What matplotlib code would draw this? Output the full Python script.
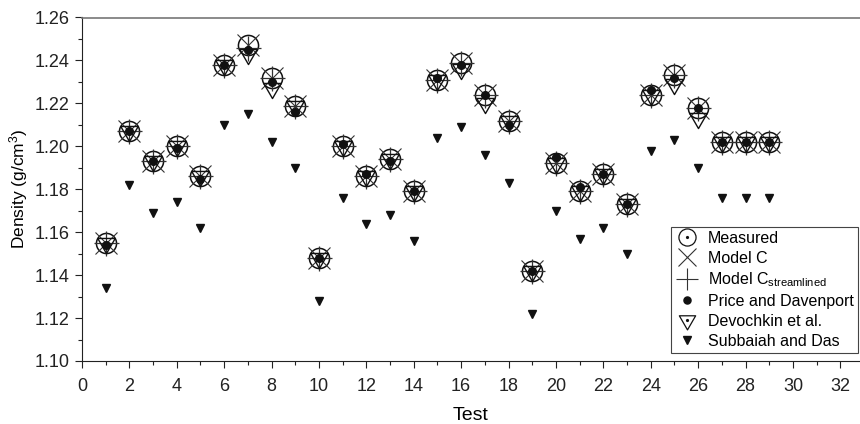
import matplotlib
matplotlib.use("Agg")
import numpy as np
import matplotlib.pyplot as plt
from matplotlib.ticker import MultipleLocator, FormatStrFormatter
from matplotlib.legend_handler import HandlerTuple
from matplotlib.lines import Line2D
from matplotlib.path import Path

plt.rcParams['font.family'] = ['Liberation Sans', 'DejaVu Sans']
plt.rcParams['mathtext.fontset'] = 'custom'
plt.rcParams['mathtext.rm'] = 'Liberation Sans'
plt.rcParams['mathtext.it'] = 'Liberation Sans:italic'

tests = list(range(1, 30))
measured = [1.155, 1.207, 1.193, 1.200, 1.186, 1.238, 1.247, 1.232, 1.219, 1.148,
            1.200, 1.186, 1.194, 1.179, 1.231, 1.239, 1.224, 1.212, 1.142, 1.192,
            1.179, 1.187, 1.173, 1.224, 1.233, 1.218, 1.202, 1.202, 1.202]
model_c = [1.155, 1.207, 1.193, 1.200, 1.186, 1.238, 1.247, 1.232, 1.219, 1.148,
           1.200, 1.186, 1.194, 1.179, 1.231, 1.239, 1.224, 1.212, 1.142, 1.192,
           1.179, 1.187, 1.173, 1.224, 1.233, 1.218, 1.202, 1.202, 1.202]
model_c_stream = [1.155, 1.207, 1.193, 1.200, 1.186, 1.238, 1.246, 1.232, 1.219, 1.148,
                  1.200, 1.186, 1.194, 1.179, 1.231, 1.239, 1.224, 1.212, 1.142, 1.192,
                  1.179, 1.187, 1.173, 1.224, 1.233, 1.218, 1.202, 1.202, 1.202]
price = [1.154, 1.207, 1.193, 1.199, 1.185, 1.238, 1.245, 1.230, 1.216, 1.148,
         1.201, 1.187, 1.193, 1.179, 1.232, 1.238, 1.224, 1.210, 1.142, 1.195,
         1.181, 1.187, 1.173, 1.226, 1.232, 1.218, 1.202, 1.202, 1.202]
devochkin = [1.155, 1.207, 1.193, 1.200, 1.186, 1.238, 1.243, 1.227, 1.219, 1.148,
             1.200, 1.186, 1.194, 1.179, 1.231, 1.236, 1.220, 1.212, 1.142, 1.192,
             1.179, 1.187, 1.173, 1.224, 1.229, 1.213, 1.202, 1.202, 1.202]
subbaiah = [1.134, 1.182, 1.169, 1.174, 1.162, 1.210, 1.215, 1.202, 1.190, 1.128,
            1.176, 1.164, 1.168, 1.156, 1.204, 1.209, 1.196, 1.183, 1.122, 1.170,
            1.157, 1.162, 1.150, 1.198, 1.203, 1.190, 1.176, 1.176, 1.176]

labels = ["Measured", "Model C", "Model C$_{\\mathregular{streamlined}}$",
          "Price and Davenport", "Devochkin et al.", "Subbaiah and Das"]

# down-pointing equilateral triangle inscribed in the unit circle
c30 = np.cos(np.pi / 6)
tri_down = Path([(0, -1), (c30, 0.5), (-c30, 0.5), (0, -1)],
                [Path.MOVETO, Path.LINETO, Path.LINETO, Path.CLOSEPOLY])

fig = plt.figure(figsize=(8.6, 4.24), dpi=100)
ax = fig.add_axes([82/860, 1 - 361/424, 1 - 82/860, (361 - 17.5)/424])

k = '#111111'
g = '#333333'
CIRC = 14.5
ax.plot(tests, measured, ls='none', marker='o', ms=CIRC, mfc='none', mec=k, mew=1.1)
ax.plot(tests, model_c, ls='none', marker='x', ms=16, mec=g, mew=0.8)
ax.plot(tests, model_c_stream, ls='none', marker='+', ms=18, mec=g, mew=0.9)
ax.plot(tests, price, ls='none', marker='o', ms=5.5, mfc=k, mec=k)
ax.plot(tests, devochkin, ls='none', marker=tri_down, ms=CIRC, mfc='none', mec=k, mew=1.0)
ax.plot(tests, subbaiah, ls='none', marker='v', ms=6, mfc=k, mec=k)

ax.set_xlim(0, 32.83)
ax.set_ylim(1.10, 1.26)
ax.xaxis.set_major_locator(MultipleLocator(2))
ax.xaxis.set_minor_locator(MultipleLocator(1))
ax.yaxis.set_major_locator(MultipleLocator(0.02))
ax.yaxis.set_minor_locator(MultipleLocator(0.01))
ax.yaxis.set_major_formatter(FormatStrFormatter('%.2f'))
ax.tick_params(which='both', direction='out', top=False, right=False, width=0.8,
               labelsize=13, colors='#222222')
ax.tick_params(which='major', length=5)
ax.tick_params(which='minor', length=3)
ax.tick_params(axis='x', which='major', pad=7)
ax.tick_params(axis='y', which='major', pad=4)
ax.spines['right'].set_visible(False)
ax.spines['top'].set_color('#777777')
ax.spines['top'].set_linewidth(1.2)
ax.spines['left'].set_color('#222222')
ax.spines['bottom'].set_color('#222222')

ax.set_xlabel("Test", fontsize=14, labelpad=9)
ax.set_ylabel("Density (g/cm$^{\\mathregular{3}}$)", fontsize=12.5, labelpad=3)

dot = Line2D([], [], ls='none', marker='o', ms=1.5, mfc=k, mec=k)
lm = Line2D([], [], ls='none', marker='o', ms=CIRC, mfc='none', mec=k, mew=0.9)
lx = Line2D([], [], ls='none', marker='x', ms=16, mec=g, mew=0.8)
lp = Line2D([], [], ls='none', marker='+', ms=18, mec=g, mew=0.8)
ld = Line2D([], [], ls='none', marker='o', ms=6, mfc=k, mec=k)
lv = Line2D([], [], ls='none', marker=tri_down, ms=CIRC * 1.1, mfc='none', mec=k, mew=0.9)
ls_ = Line2D([], [], ls='none', marker='v', ms=6, mfc=k, mec=k)

leg = ax.legend([(lm, dot), lx, lp, ld, (lv, dot), ls_], labels,
                handler_map={tuple: HandlerTuple(ndivide=1)},
                loc='upper right', bbox_to_anchor=(858/860, 1 - 227/424),
                bbox_transform=fig.transFigure, borderaxespad=0,
                fontsize=11.5, markerscale=0.85, handlelength=1.5, handletextpad=0.6,
                borderpad=0.25, labelspacing=0.3, fancybox=False, framealpha=1,
                edgecolor='#444444')
leg.get_frame().set_linewidth(0.8)

fig.savefig("out.png", dpi=100)
